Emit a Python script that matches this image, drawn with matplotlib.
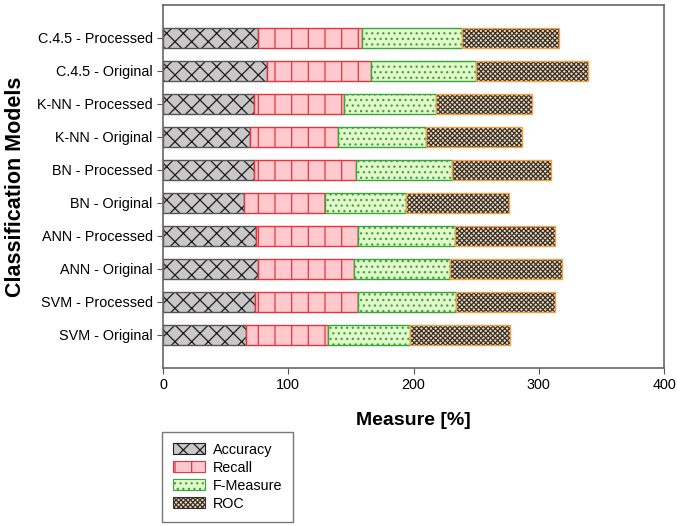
import matplotlib.pyplot as plt
from matplotlib.patches import Patch
import numpy as np

plt.rcParams['font.family'] = ['Liberation Sans', 'DejaVu Sans']
plt.rcParams['hatch.linewidth'] = 0.9

# data (bottom to top)
models = ['SVM - Original', 'SVM - Processed', 'ANN - Original', 'ANN - Processed',
          'BN - Original', 'BN - Processed', 'K-NN - Original', 'K-NN - Processed',
          'C.4.5 - Original', 'C.4.5 - Processed']
accuracy = [66.3, 73.8, 76.1, 74.3, 64.9, 72.4, 69.7, 72.4, 82.8, 75.6]
recall = [65.4, 81.9, 76.4, 81.4, 64.7, 81.4, 69.8, 72.4, 83.5, 83.6]
fmeasure = [65.8, 78.0, 76.4, 77.4, 64.7, 76.9, 70.2, 72.9, 83.9, 79.3]
roc = [79.8, 79.3, 89.4, 79.9, 81.9, 78.8, 76.9, 76.6, 89.1, 77.7]

fig = plt.figure(figsize=(6.77, 5.26), dpi=100)
ax = fig.add_axes([0.2408, 0.3004, 0.7402, 0.6901])

y = np.arange(len(models))
h = 0.6
left = np.zeros(len(models))

# (label, values, face, hatch, hatch colour, edge colour)
series = [
    ('Accuracy', accuracy, '#c9c7c7', 'xx', '#1e1e1e', '#555555'),
    ('Recall', recall, '#ffc9cd', '|', '#e8343c', '#e8343c'),
    ('F-Measure', fmeasure, '#e3f9cc', '...', '#3aa53a', '#3aa53a'),
    ('ROC', roc, '#eadcc0', 'xxxxxxx', '#3a3028', '#f0a040'),
]

handles = []
for name, vals, face, hatch, hcol, ecol in series:
    ax.barh(y, vals, height=h, left=left, color=face, hatch=hatch,
            edgecolor=hcol, linewidth=0)
    ax.barh(y, vals, height=h, left=left, fill=False, edgecolor=ecol, linewidth=1.0)
    left = left + np.array(vals)
    handles.append(Patch(facecolor=face, hatch=hatch, edgecolor=hcol,
                         linewidth=0.8, label=name))

ax.set_xlim(0, 400)
ax.set_ylim(-1, len(models))
ax.set_yticks(y)
ax.set_yticklabels(models, fontsize=10.4)
ax.set_xticks([0, 100, 200, 300, 400])
ax.tick_params(axis='x', labelsize=10.4, direction='out', length=4, color='#555555')
ax.tick_params(axis='y', direction='out', length=4, color='#555555')
for s in ax.spines.values():
    s.set_color('#666666')
    s.set_linewidth(1.2)

ax.set_xlabel('Measure [%]', fontsize=14, fontweight='bold', labelpad=14)
ax.set_ylabel('Classification Models', fontsize=15.5, fontweight='bold', labelpad=8)

leg = fig.legend(handles=handles, loc='upper left', bbox_to_anchor=(162 / 677, 1 - 432 / 526),
                 borderaxespad=0, fontsize=10.4, frameon=True, fancybox=False,
                 edgecolor='#555555', handlelength=2.2, handleheight=0.8,
                 labelspacing=0.28, borderpad=0.75, handletextpad=0.55)
leg.get_frame().set_linewidth(1.0)

fig.savefig('out.png', dpi=100)
